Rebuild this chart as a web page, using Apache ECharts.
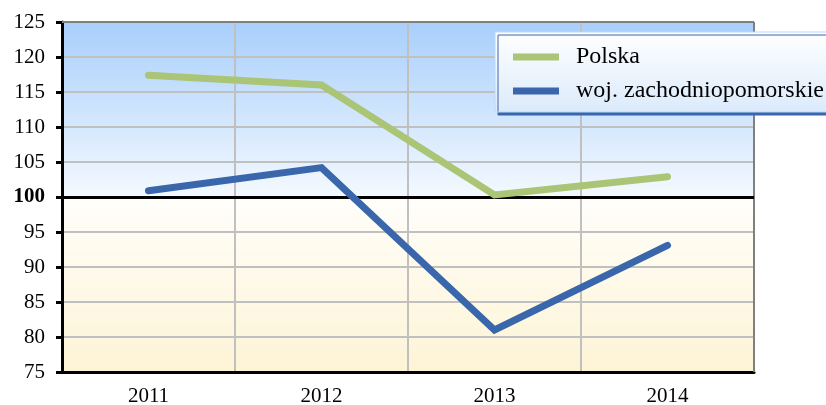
<!DOCTYPE html>
<html>
<head>
<meta charset="utf-8">
<script src="https://cdn.jsdelivr.net/npm/echarts@6/dist/echarts.min.js"></script>
<style>
  html, body { margin: 0; padding: 0; background: #ffffff; }
  #chart { width: 826px; height: 405px; }
</style>
</head>
<body>
<div id="chart"></div>
<script>
// Index values (previous year = 100)
const years = ['2011', '2012', '2013', '2014'];
const polska = [117.4, 116.0, 100.3, 102.9];
const zachodniopomorskie = [100.9, 104.2, 81.0, 93.1];
const seriesNames = ['Polska', 'woj. zachodniopomorskie'];
const baseline = 100;

const chart = echarts.init(document.getElementById('chart'), null, { renderer: 'canvas' });
const serif = '"Liberation Serif", "Times New Roman", serif';

chart.setOption({
  animation: false,
  grid: {
    left: 62, right: 72, top: 22, bottom: 33,
    outerBoundsMode: 'none',
    containLabel: false,
    show: true,
    borderWidth: 0,
    backgroundColor: {
      type: 'linear', x: 0, y: 0, x2: 0, y2: 1,
      colorStops: [
        { offset: 0, color: '#a8cffb' },
        { offset: 0.5, color: '#f4f9ff' },
        { offset: 0.5, color: '#fffefa' },
        { offset: 1, color: '#fdf4d6' }
      ]
    }
  },
  legend: {
    orient: 'vertical',
    left: 495, top: 32,
    padding: [13, 30, 9, 18],
    itemWidth: 46, itemHeight: 7,
    itemGap: 10,
    icon: 'rect',
    data: seriesNames,
    textStyle: { fontFamily: serif, fontSize: 24, color: '#000', padding: [0, 0, 0, 12] },
    borderColor: '#b9d8fb',
    borderWidth: 1,
    backgroundColor: {
      type: 'linear', x: 0, y: 0, x2: 0, y2: 1,
      colorStops: [
        { offset: 0, color: '#ffffff' },
        { offset: 1, color: '#dbeafb' }
      ]
    },
    shadowColor: '#3a67ac',
    shadowBlur: 0,
    shadowOffsetX: 3,
    shadowOffsetY: 3
  },
  xAxis: {
    type: 'category',
    data: years,
    boundaryGap: true,
    axisLine: { show: true, lineStyle: { color: '#000', width: 3 } },
    axisTick: { show: false },
    axisLabel: { fontFamily: serif, fontSize: 21, color: '#000', margin: 14 },
    splitLine: { show: true, lineStyle: { color: '#c0c0c0', width: 2 } }
  },
  yAxis: {
    type: 'value',
    min: 75, max: 125, interval: 5,
    axisLine: { show: true, lineStyle: { color: '#000', width: 3 } },
    axisTick: { show: true, length: 6, lineStyle: { color: '#000', width: 3 } },
    axisLabel: {
      fontFamily: serif, fontSize: 21, color: '#000', margin: 17,
      formatter: function (v) { return v === baseline ? '{b|' + v + '}' : String(v); },
      rich: { b: { fontFamily: serif, fontSize: 21, fontWeight: 'bold', color: '#000' } }
    },
    splitLine: { show: true, lineStyle: { color: '#c0c0c0', width: 2 } }
  },
  series: [
    {
      name: seriesNames[0],
      type: 'line',
      data: polska,
      symbol: 'none',
      z: 3,
      lineStyle: { color: '#a9c575', width: 7, cap: 'round', join: 'miter' },
      itemStyle: { color: '#a9c575' },
      markLine: {
        silent: true,
        symbol: 'none',
        label: { show: false },
        lineStyle: { color: '#000', width: 3, type: 'solid' },
        data: [{ yAxis: baseline }],
        z: 2
      }
    },
    {
      name: seriesNames[1],
      type: 'line',
      data: zachodniopomorskie,
      symbol: 'none',
      z: 4,
      lineStyle: { color: '#3a67ac', width: 7, cap: 'round', join: 'miter' },
      itemStyle: { color: '#3a67ac' }
    }
  ]
});

// Top and right frame of the plot area in gray
const rect = chart.getModel().getComponent('grid').coordinateSystem.getRect();
chart.setOption({
  graphic: [
    { type: 'line', z: 1, shape: { x1: rect.x, y1: rect.y, x2: rect.x + rect.width, y2: rect.y }, style: { stroke: '#808080', lineWidth: 2 } },
    { type: 'line', z: 1, shape: { x1: rect.x + rect.width, y1: rect.y, x2: rect.x + rect.width, y2: rect.y + rect.height }, style: { stroke: '#808080', lineWidth: 2 } }
  ]
});
</script>
</body>
</html>
